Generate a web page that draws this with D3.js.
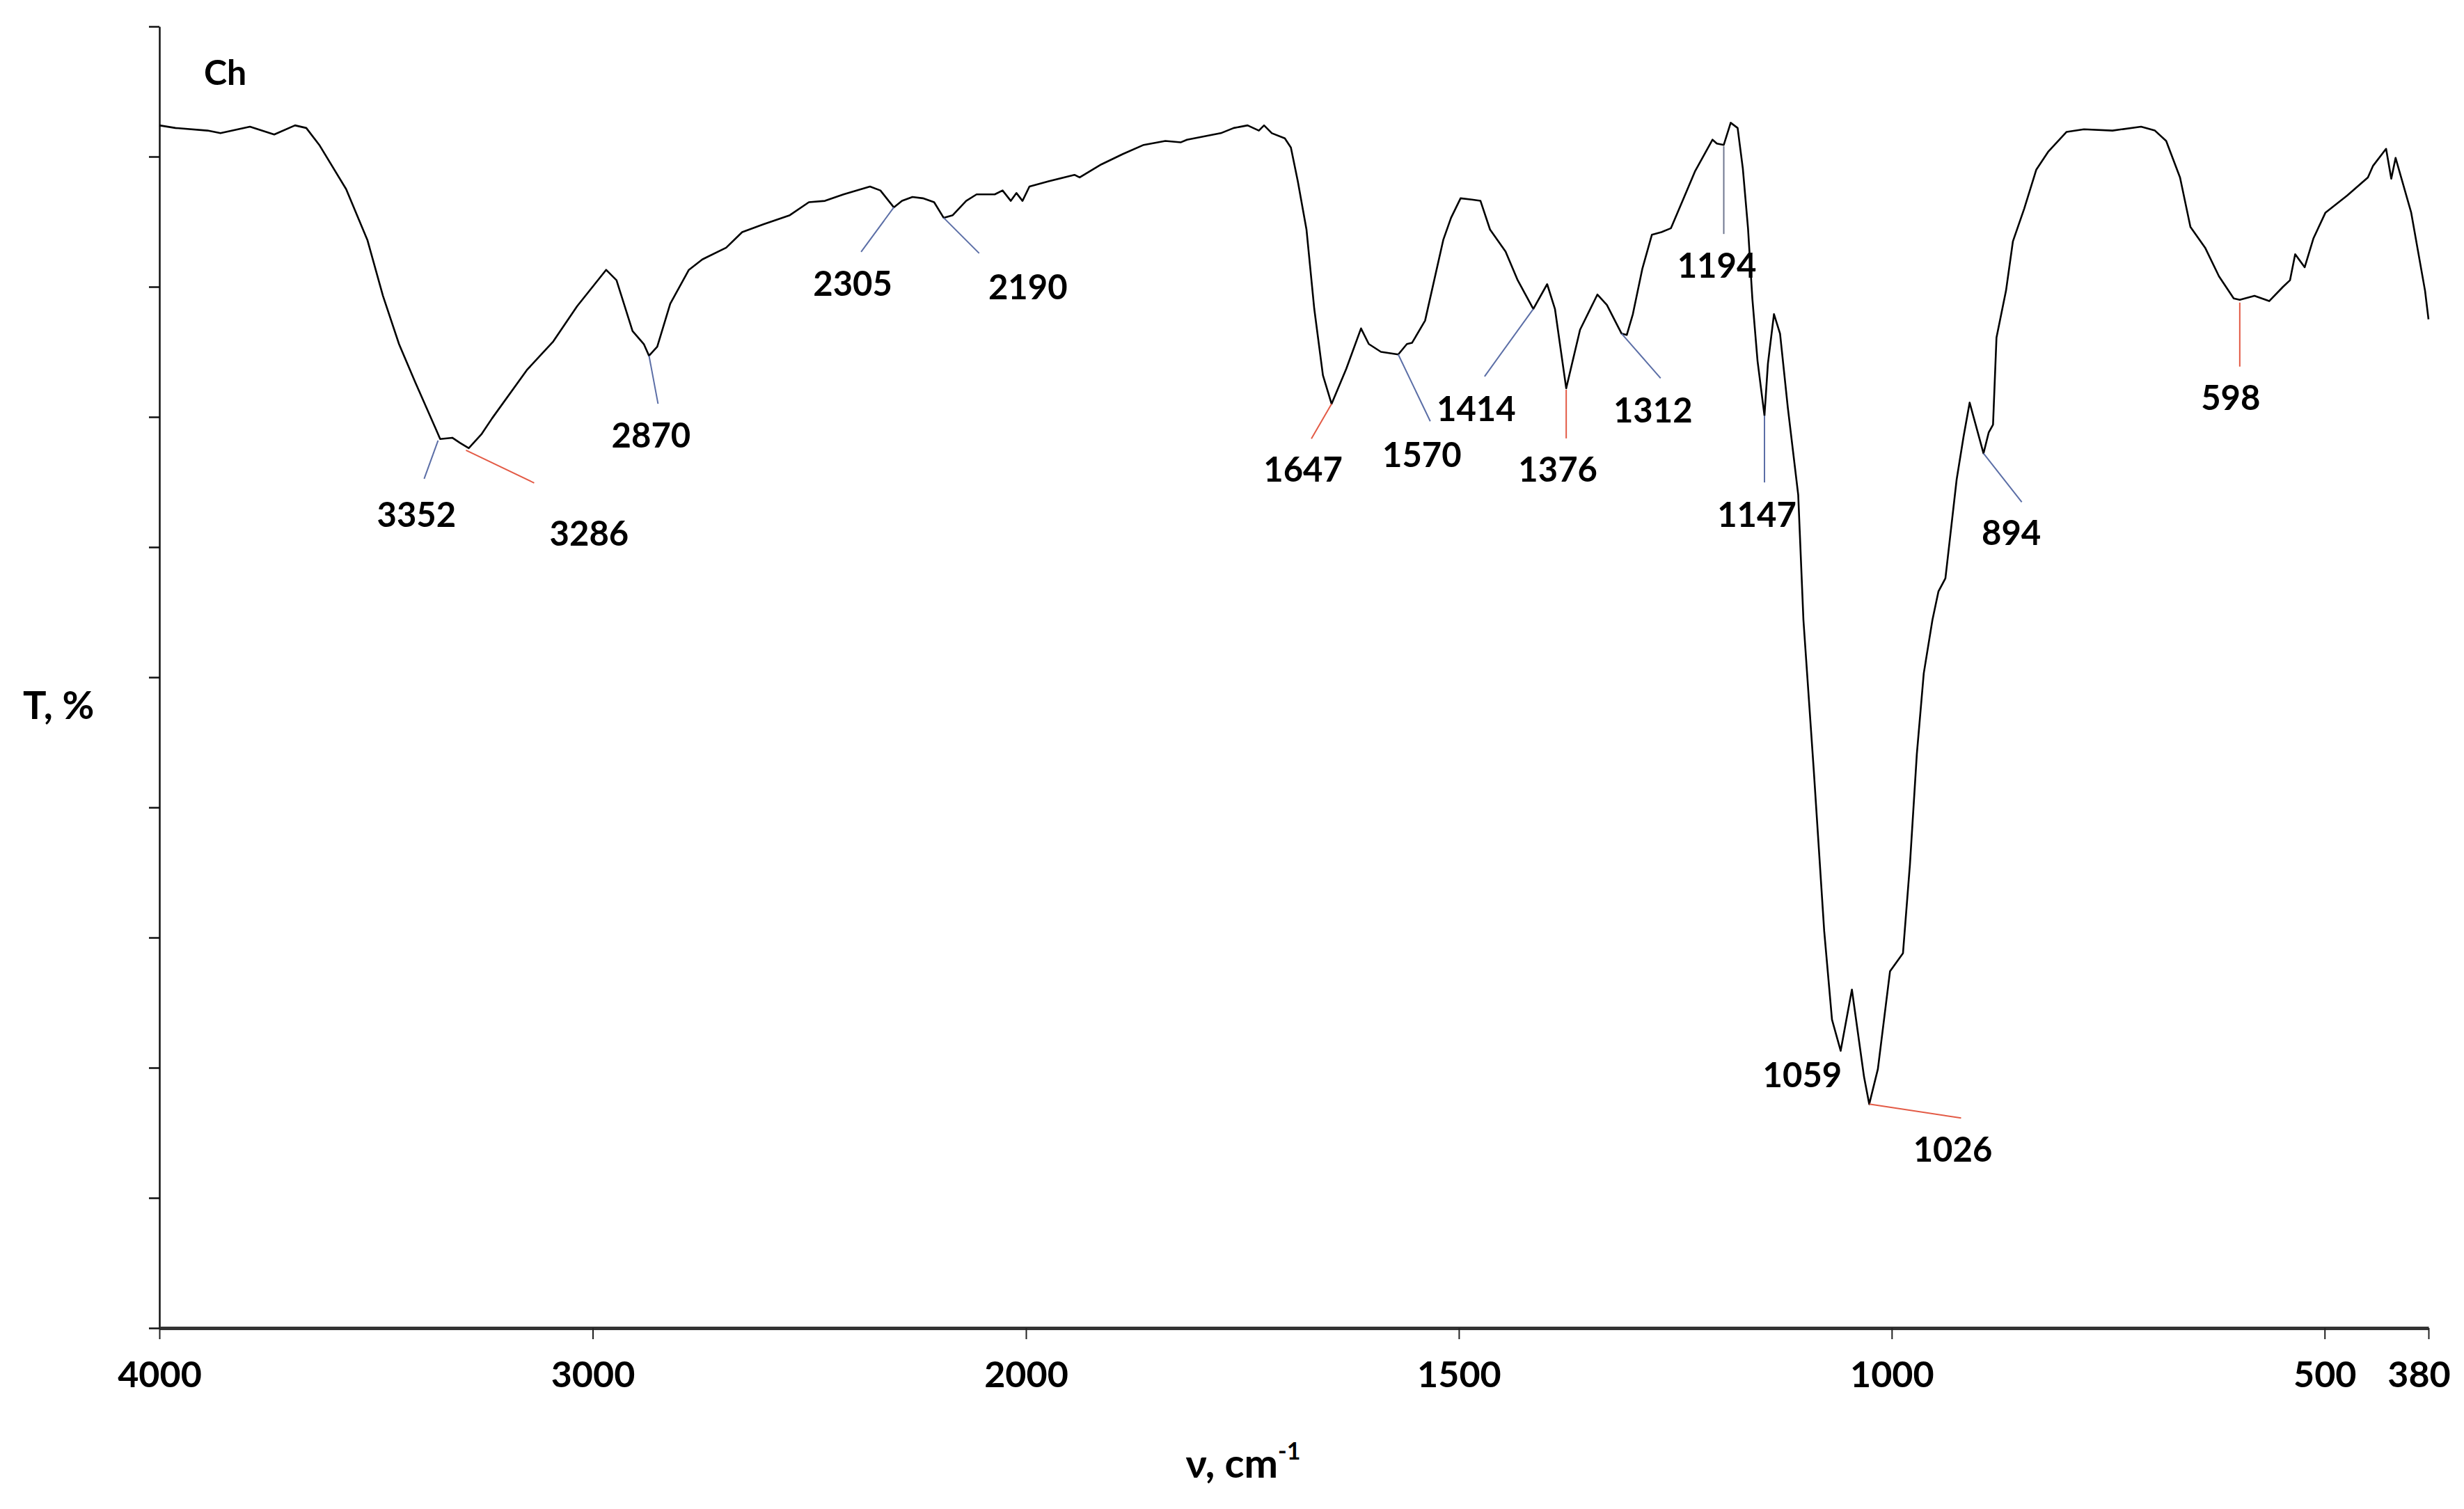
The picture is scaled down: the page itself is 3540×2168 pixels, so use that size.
<!DOCTYPE html>
<html><head><meta charset="utf-8">
<script src="https://cdn.jsdelivr.net/npm/d3@7"></script>
<style>html,body{margin:0;padding:0;background:#fff}svg{display:block;background:#fff}</style>
</head><body>
<svg id="chart" width="3540" height="2168"></svg>
<script>
// ---------------- DATA ----------------
const wavenumber = [4000,3963,3889,3859,3791,3735,3687,3661,3631,3569,3520,3484,3447,3410,3361,3352,3324,3306,3286,3256,3232,3152,3091,3036,
  2969,2945,2908,2882,2870,2851,2821,2778,2747,2692,2655,2606,2545,2501,2464,2421,2360,2336,2305,2286,2262,2238,2212,2190,2169,2138,2114,2072,
  2054,2035,2022,2008,1996,1974,1944,1938,1913,1888,1864,1839,1821,1814,1775,1760,1744,1731,1725,1716,1701,1694,1686,1676,1667,1657,1647,1630,
  1613,1604,1590,1570,1560,1554,1539,1518,1509,1498,1485,1475,1464,1446,1432,1414,1398,1389,1376,1360,1340,1329,1312,1306,1299,1288,1277,1266,
  1255,1241,1227,1207,1202,1194,1186,1178,1172,1166,1161,1155,1147,1143,1136,1129,1120,1108,1102,1090,1078,1069,1059,1046,1032,1026,1016,1002,
  987,979,971,963,953,946,938,925,917,910,894,888,883,879,868,860,847,833,819,798,778,745,712,696,683,667,655,638,622,605,598,581,564,548,540,
  534,523,513,499,474,450,444,429,423,418,400,384,380];
const transmittance = [92.4,92.2,92.0,91.8,92.3,91.7,92.4,92.2,90.9,87.5,83.6,79.3,75.6,72.7,69.0,68.3,68.4,68.0,67.6,68.7,69.9,73.6,75.8,78.5,
  81.3,80.5,76.6,75.6,74.7,75.4,78.7,81.3,82.1,83.0,84.2,84.8,85.5,86.5,86.6,87.1,87.7,87.4,86.1,86.6,86.9,86.8,86.5,85.3,85.5,86.6,87.1,87.1,
  87.4,86.6,87.2,86.6,87.7,88.1,88.6,88.4,89.4,90.2,90.9,91.2,91.1,91.3,91.8,92.2,92.4,92.0,92.4,91.8,91.4,90.7,88.1,84.4,78.3,73.2,71.0,73.7,
  76.8,75.6,75.0,74.8,75.6,75.7,77.4,83.6,85.3,86.8,86.7,86.6,84.4,82.7,80.5,78.3,80.2,78.3,72.2,76.7,79.4,78.6,76.4,76.3,77.9,81.4,84.0,84.2,
  84.5,86.7,88.9,91.3,91.0,90.9,92.6,92.2,89.1,84.5,79.1,74.3,70.1,74.1,77.9,76.4,70.7,64.0,54.4,42.8,30.5,23.7,21.3,26.0,19.3,17.2,19.9,27.4,
  28.8,35.6,44.1,50.3,54.4,56.6,57.6,65.2,68.5,71.1,67.2,68.8,69.4,76.1,79.7,83.5,86.0,89.0,90.4,91.9,92.1,92.0,92.3,92.0,91.2,88.4,84.6,83.0,80.8,79.1,79.0,79.3,78.9,80.0,80.5,
  82.5,81.5,83.7,85.7,87.0,88.4,89.3,90.6,88.3,89.9,85.7,79.7,77.5];
const xTickValues = [4000, 3000, 2000, 1500, 1000, 500, 380];
const yTickValues = [0, 10, 20, 30, 40, 50, 60, 70, 80, 90, 100];
const peakWavenumbers = [3352, 3286, 2870, 2305, 2190, 1647, 1570, 1414, 1376, 1312, 1194, 1147, 1059, 1026, 894, 598];
const sampleName = "Ch";
const yTitle = "T, %";
const xTitle = "ν, cm";
const xTitleSup = "-1";

// ---------------- LAYOUT / STYLE ----------------
const BLUE = "#5b6ea6", RED = "#e35a45";
// leader line start offset, end offset, label centre offset (px from the peak point), colour
const peakLayout = [
  {s:[-3,2],  e:[-23,57],  t:[-34,107], c:BLUE},
  {s:[-4,3],  e:[94,50],   t:[173,121], c:RED},
  {s:[0,0],   e:[13,69],   t:[3,113],   c:BLUE},
  {s:[0,0],   e:[-47,64],  t:[-59,108], c:BLUE},
  {s:[0,0],   e:[51,51],   t:[121,98],  c:BLUE},
  {s:[0,0],   e:[-29,50],  t:[-41,93],  c:RED},
  {s:[0,0],   e:[46,96],   t:[34,143],  c:BLUE},
  {s:[0,0],   e:[-70,97],  t:[-82,142], c:BLUE},
  {s:[0,2],   e:[0,72],    t:[-12,115], c:RED},
  {s:[0,0],   e:[56,64],   t:[45,109],  c:BLUE},
  {s:[0,2],   e:[0,128],   t:[-10,172], c:"#6f7790"},
  {s:[0,0],   e:[0,96],    t:[-11,141], c:BLUE},
  {s:null,    e:null,      t:[-55,33],  c:null},
  {s:[0,0],   e:[132,20],  t:[120,64],  c:RED},
  {s:[0,0],   e:[55,70],   t:[40,113],  c:BLUE},
  {s:[0,4],   e:[0,96],    t:[-13,139], c:RED}
];
const FONT = "Lato, Carlito, 'Open Sans', 'DejaVu Sans', sans-serif";

const svg = d3.select("#chart");
svg.append("rect").attr("width",3540).attr("height",2168).attr("fill","#fff");

const x = d3.scaleLinear().domain([4000, 2000, 380]).range([229, 1474, 3489]);
const y = d3.scaleLinear().domain([0, 100]).range([1908, 38]);

const data = wavenumber.map((w,i)=>({w, t: transmittance[i]}));

// Y axis (no labels)
const yAxis = svg.append("g").attr("transform","translate(229,0)")
  .call(d3.axisLeft(y).tickValues(yTickValues).tickSize(15).tickSizeOuter(0).tickFormat(""));
yAxis.select(".domain").attr("stroke","#111").attr("stroke-width",2.5);
yAxis.selectAll(".tick line").attr("stroke","#111").attr("stroke-width",2.5);

// X axis
const xAxis = svg.append("g").attr("transform","translate(0,1908)")
  .call(d3.axisBottom(x).tickValues(xTickValues).tickSize(16).tickSizeOuter(0).tickPadding(32).tickFormat(d=>String(d)));
xAxis.select(".domain").attr("stroke","#333").attr("stroke-width",5);
xAxis.selectAll(".tick line").attr("stroke","#222").attr("stroke-width",2);
xAxis.selectAll(".tick text")
  .attr("font-family",FONT).attr("font-weight","bold").attr("font-size",52).attr("fill","#000")
  .attr("dx", d => d===380 ? -14 : 0);

// spectrum line
const line = d3.line().x(d=>x(d.w)).y(d=>y(d.t));
svg.append("path").datum(data).attr("d",line)
  .attr("fill","none").attr("stroke","#000").attr("stroke-width",2.6).attr("stroke-linejoin","round");

// interpolate T at a wavenumber
function tAt(w){
  for(let i=0;i<data.length-1;i++){
    const a=data[i], b=data[i+1];
    if(w<=a.w && w>=b.w){ const f=(a.w-w)/(a.w-b.w||1); return a.t+(b.t-a.t)*f; }
  }
  return data[data.length-1].t;
}

// peak annotations
const ann = svg.append("g");
peakWavenumbers.forEach((w,i)=>{
  const L = peakLayout[i];
  const px = x(w), py = y(tAt(w));
  if(L.s){
    ann.append("line")
      .attr("x1",px+L.s[0]).attr("y1",py+L.s[1])
      .attr("x2",px+L.e[0]).attr("y2",py+L.e[1])
      .attr("stroke",L.c).attr("stroke-width",2);
  }
  ann.append("text").attr("x",px+L.t[0]).attr("y",py+L.t[1])
    .attr("text-anchor","middle").attr("dominant-baseline","central")
    .attr("font-family",FONT).attr("font-weight","bold").attr("font-size",49).attr("fill","#000")
    .text(String(w));
});

// sample name
svg.append("text").attr("x",293).attr("y",122)
  .attr("font-family",FONT).attr("font-weight","bold").attr("font-size",50).attr("fill","#000").text(sampleName);

// Y title
svg.append("text").attr("x",33).attr("y",1033)
  .attr("font-family",FONT).attr("font-weight","bold").attr("font-size",56).attr("fill","#000").text(yTitle);

// X title
const xt = svg.append("text").attr("x",1786).attr("y",2123).attr("text-anchor","middle")
  .attr("font-family",FONT).attr("font-weight","bold").attr("font-size",58).attr("fill","#000");
xt.append("tspan").text(xTitle);
xt.append("tspan").attr("font-size",34).attr("dy",-26).text(xTitleSup);
</script>
</body></html>
